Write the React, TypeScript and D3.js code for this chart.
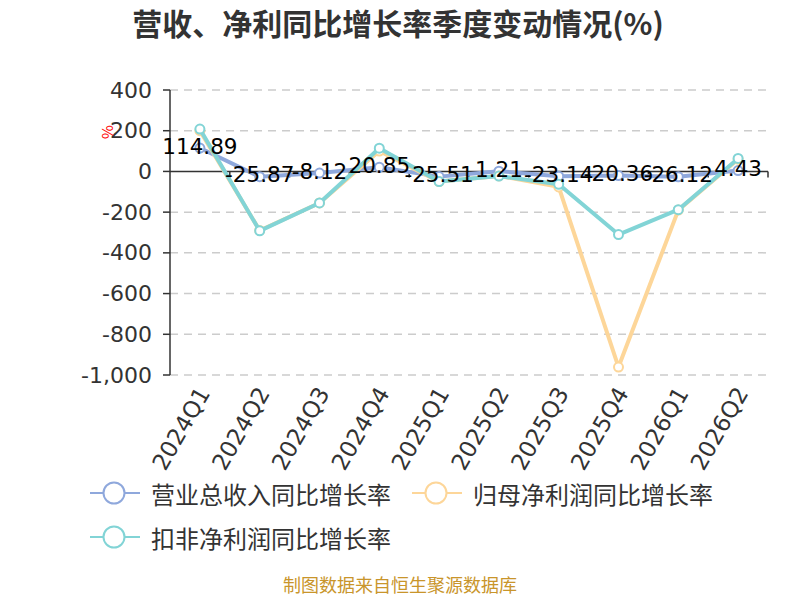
import React from "react";
import * as d3 from "d3";

const categories = ["2024Q1", "2024Q2", "2024Q3", "2024Q4", "2025Q1", "2025Q2", "2025Q3", "2025Q4", "2026Q1", "2026Q2"];
const revenueGrowth = [114.89, -25.87, -8.12, 20.85, -25.51, 1.21, -23.14, -20.36, -26.12, 4.43];
const netProfitGrowth = [200, -290, -155, 100, -50, -22, -76, -961, -190, 60];
const deductedProfitGrowth = [208, -292, -155, 114, -50, -23, -63, -310, -188, 64];
const yTicks = [400, 200, 0, -200, -400, -600, -800, -1000];
const seriesNames = ["营业总收入同比增长率", "归母净利润同比增长率", "扣非净利润同比增长率"];
const seriesColors = ["#8fa8dc", "#fdd699", "#82d4d6"];

const FONT = "'Noto Sans CJK SC', 'Noto Sans', sans-serif";
const NUM_FONT = "'DejaVu Sans', 'Noto Sans', sans-serif";

const locale = d3.formatLocale({ decimal: ".", thousands: ",", grouping: [3], currency: ["", ""], minus: "-" });

export default function App() {
  const left = 170, right = 768, top = 90, bottom = 375;
  const x = d3.scaleBand<string>().domain(categories).range([left, right]);
  const y = d3.scaleLinear().domain([-1000, 400]).range([bottom, top]);
  const cx = (c: string) => (x(c) as number) + x.bandwidth() / 2;
  const line = d3.line<number>().x((_, i) => cx(categories[i])).y((d) => y(d));
  const allSeries = [revenueGrowth, netProfitGrowth, deductedProfitGrowth];
  const fmt = locale.format(",");
  const y0 = y(0);

  return (
    <svg width={800} height={600} style={{ position: "absolute", left: 0, top: 0, background: "#fff" }} fontFamily={FONT}>
      <text x={398} y={35} textAnchor="middle" fontSize={30} fontWeight="bold" fill="#333">
        营收、净利同比增长率季度变动情况(%)
      </text>

      {yTicks.map((t) => (
        <g key={t}>
          {t !== 0 && (
            <line x1={left} x2={right} y1={y(t)} y2={y(t)} stroke="#ccc" strokeWidth={1.5} strokeDasharray="8,6" />
          )}
          <line x1={left - 7} x2={left} y1={y(t)} y2={y(t)} stroke="#333" strokeWidth={1.5} />
          <text x={152} y={y(t)} textAnchor="end" dominantBaseline="central" fontSize={22} fontFamily={NUM_FONT} fill="#333">
            {fmt(t)}
          </text>
        </g>
      ))}
      <line x1={left} x2={left} y1={top} y2={bottom} stroke="#333" strokeWidth={1.5} />
      <line x1={left} x2={right} y1={y0} y2={y0} stroke="#333" strokeWidth={1.5} />
      {categories.map((c) => (
        <line key={c} x1={(x(c) as number) + x.bandwidth()} x2={(x(c) as number) + x.bandwidth()} y1={y0} y2={y0 + 6} stroke="#333" strokeWidth={1.5} />
      ))}
      <text transform={`translate(106,132) rotate(-90)`} textAnchor="middle" dominantBaseline="central" fontSize={15} fill="red">
        %
      </text>

      {categories.map((c) => (
        <text key={c} transform={`translate(${cx(c) + 4},${bottom + 14}) rotate(-60)`} textAnchor="end" dominantBaseline="central" fontSize={23} fontFamily={NUM_FONT} fill="#333">
          {c}
        </text>
      ))}

      {allSeries.map((s, k) => (
        <g key={k}>
          <path d={line(s) || ""} fill="none" stroke={seriesColors[k]} strokeWidth={4} strokeLinejoin="round" />
          {s.map((v, i) => (
            <circle key={i} cx={cx(categories[i])} cy={y(v)} r={4.5} fill="#fff" stroke={seriesColors[k]} strokeWidth={2} />
          ))}
        </g>
      ))}

      {revenueGrowth.map((v, i) => (
        <text key={i} x={cx(categories[i])} y={y(v) - 2} textAnchor="middle" dominantBaseline="central" fontSize={21.5} fontFamily={NUM_FONT} fill="#000">
          {locale.format("")(v)}
        </text>
      ))}

      {seriesNames.map((n, k) => {
        const lx = k === 1 ? 412 : 90;
        const ly = k === 2 ? 537 : 493;
        return (
          <g key={n}>
            <line x1={lx} x2={lx + 50} y1={ly} y2={ly} stroke={seriesColors[k]} strokeWidth={2} />
            <circle cx={lx + 24} cy={ly} r={10.5} fill="#fff" stroke={seriesColors[k]} strokeWidth={2} />
            <text x={lx + 61} y={ly} dominantBaseline="central" fontSize={24} fill="#333">
              {n}
            </text>
          </g>
        );
      })}

      <text x={400} y={592} textAnchor="middle" fontSize={18} fill="#c9952b">
        制图数据来自恒生聚源数据库
      </text>
    </svg>
  );
}
